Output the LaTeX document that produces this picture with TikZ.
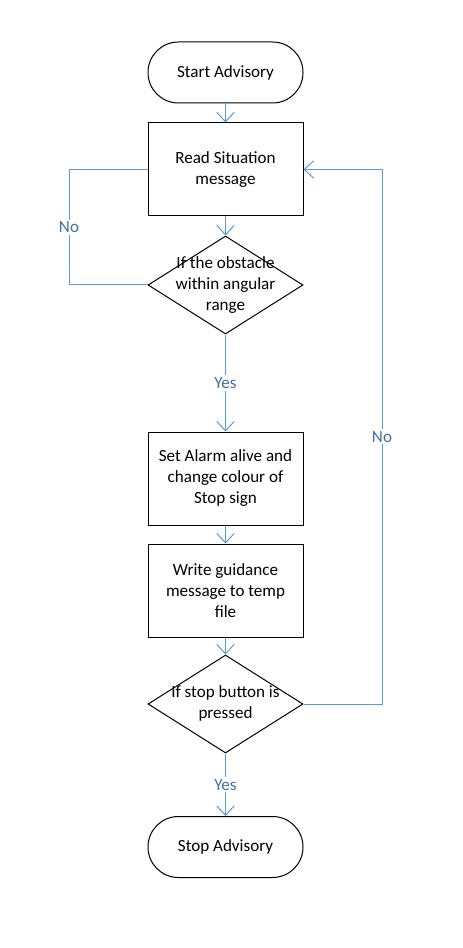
\documentclass[tikz,border=0pt]{standalone}
\usepackage{fontspec}
\setmainfont{Carlito}
\usetikzlibrary{arrows.meta,shapes.geometric}
\definecolor{lineblue}{HTML}{5B9BD5}
\definecolor{labelblue}{HTML}{41719C}
\tikzset{
  base/.style={draw=black,line width=0.75pt,inner sep=0pt,font=\fontsize{12.8}{15.75}\selectfont,align=center},
  terminal/.style={base,rectangle,rounded corners=22.8pt,minimum width=116.25pt,minimum height=45.75pt},
  procbox/.style={base,rectangle,minimum width=116.25pt,minimum height=69.75pt},
  decision/.style={base,diamond,minimum width=116.25pt,minimum height=73.5pt},
  dtext/.style={inner sep=0pt,font=\fontsize{12.8}{15.75}\selectfont,align=center},
  conn/.style={draw=lineblue,line width=0.75pt},
  arr/.style={conn,-{Straight Barb[length=7pt,width=13pt,line width=0.75pt]}},
  lbl/.style={fill=white,text=labelblue,inner sep=1.5pt,font=\fontsize{12.8}{14}\selectfont}
}
\begin{document}
\begin{tikzpicture}[x=0.75pt,y=-0.75pt]
\path[use as bounding box,fill=white] (0,0) rectangle (463,948);
\node[terminal] (start) at (225.5,72.5) {Start Advisory};
\node[procbox] (read) at (225.5,169.5) {Read Situation\\message};
\node[decision] (d1) at (225.5,285) {};
\node[dtext] (d1t) at (225.5,285) {If the obstacle\\within angular\\range};
\node[procbox] (alarm) at (225.5,478.5) {Set Alarm alive and\\change colour of\\Stop sign};
\node[procbox] (write) at (225.5,590.5) {Write guidance\\message to temp\\file};
\node[decision] (d2) at (225.5,704) {};
\node[dtext] (d2t) at (225.5,703.5) {If stop button is\\pressed};
\node[terminal] (stop) at (225.5,847) {Stop Advisory};
\coordinate (lb) at (69,285);
\coordinate (lt) at (69,169.5);
\coordinate (rb) at (382,704);
\coordinate (rt) at (382,169.5);
\draw[arr] (start) -- (read);
\draw[arr] (read) -- (d1);
\draw[arr] (d1) -- node[lbl] (yes1) {Yes} (alarm);
\draw[arr] (alarm) -- (write);
\draw[arr] (write) -- (d2);
\draw[arr] (d2) -- node[lbl,pos=0.5] (yes2) {Yes} (stop);
\draw[conn] (d1.west) -- (lb) -- node[lbl] (no1) {No} (lt) -- (read.west);
\draw[arr] (d2.east) -- (rb) -- node[lbl,pos=0.5] (no2) {No} (rt) -- (read.east);
\end{tikzpicture}
\end{document}
